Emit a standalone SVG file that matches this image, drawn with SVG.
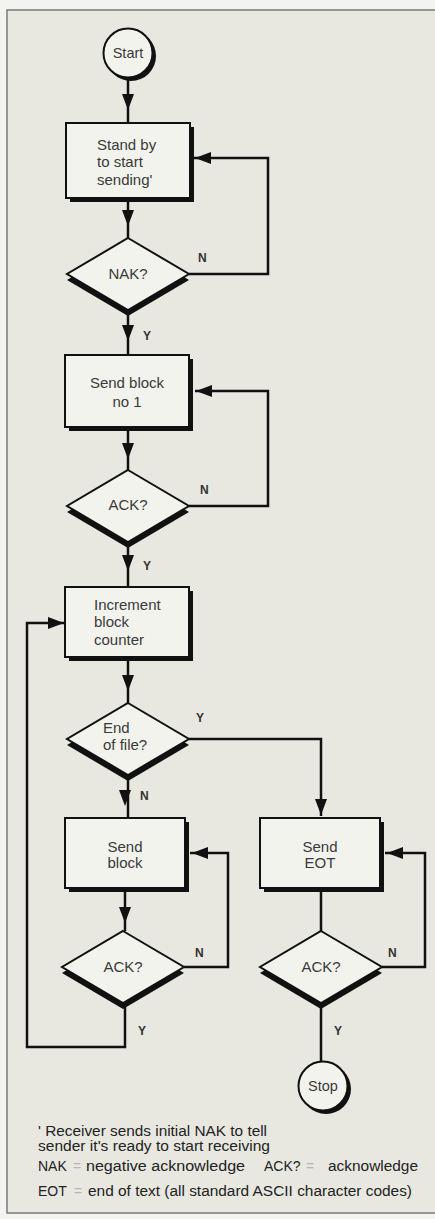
<svg xmlns="http://www.w3.org/2000/svg" width="435" height="1219" viewBox="0 0 435 1219">
<style>
.bg{fill:#f3f3ef}
.frame{fill:#e8e8e1;stroke:#7a7a78;stroke-width:1.5}
.sh{fill:#111}
.nd{fill:#f3f3ee;stroke:#111;stroke-width:2}
.t{font-family:"Liberation Sans",Arial,sans-serif;font-size:15px;fill:#3a3a3a}
.tc{text-anchor:middle}
.lb{font-family:"Liberation Sans",Arial,sans-serif;font-size:12px;font-weight:bold;fill:#333}
.fn{font-family:"Liberation Sans",Arial,sans-serif;font-size:14px;fill:#222}
.eq{font-family:"Liberation Sans",Arial,sans-serif;font-size:14px;fill:#b9b5b3}
.ln{fill:none;stroke:#111;stroke-width:2.5}
.ah{fill:#111}
</style>
<defs>
<path id="ad" d="M-6,-16 L6,-16 L0,0 Z"/>
<path id="al" d="M16,-6 L16,6 L0,0 Z"/>
<path id="ar" d="M-16,-6 L-16,6 L0,0 Z"/>
</defs>
<rect class="bg" x="0" y="0" width="435" height="1219"/>
<rect class="frame" x="7" y="10" width="440" height="1203"/>

<g id="connectors">
<path class="ln" d="M128,80 V123"/>
<path class="ln" d="M128,198 V238"/>
<path class="ln" d="M189,274 H268 V158 H192"/>
<path class="ln" d="M128,310 V355"/>
<path class="ln" d="M128,427 V470"/>
<path class="ln" d="M189,506 H268 V391 H195"/>
<path class="ln" d="M128,542 V587"/>
<path class="ln" d="M128,657 V703"/>
<path class="ln" d="M189,739 H321 V816"/>
<path class="ln" d="M128,775 V818"/>
<path class="ln" d="M125,888 V931"/>
<path class="ln" d="M184,967 H228 V853 H190"/>
<path class="ln" d="M321,888 V931"/>
<path class="ln" d="M382,967 H425 V853 H385"/>
<path class="ln" d="M125,1003 V1047 H27 V623 H64"/>
<path class="ln" d="M321,1003 V1062"/>
<use class="ah" href="#ad" x="128" y="110"/>
<use class="ah" href="#ad" x="128" y="226"/>
<use class="ah" href="#al" x="195" y="158"/>
<use class="ah" href="#ad" x="128" y="341"/>
<use class="ah" href="#ad" x="128" y="459"/>
<use class="ah" href="#al" x="196" y="391"/>
<use class="ah" href="#ad" x="128" y="571"/>
<use class="ah" href="#ad" x="128" y="691"/>
<use class="ah" href="#ad" x="321" y="815"/>
<use class="ah" href="#ad" x="125" y="806"/>
<use class="ah" href="#ad" x="125" y="923"/>
<use class="ah" href="#al" x="192" y="853"/>
<use class="ah" href="#al" x="387" y="853"/>
<use class="ah" href="#ar" x="64" y="623"/>
</g>

<g id="start">
<circle class="sh" cx="131" cy="56" r="25"/>
<circle class="nd" cx="128" cy="53" r="24.5"/>
<text class="t tc" x="128" y="58" style="font-size:14.5px">Start</text>
</g>

<g id="standby">
<rect class="sh" x="70" y="127" width="124" height="75"/>
<rect class="nd" x="66" y="123" width="124" height="75"/>
<text class="t" x="97" y="150">Stand by</text>
<text class="t" x="97" y="167">to start</text>
<text class="t" x="97" y="185">sending'</text>
</g>

<g id="nak">
<polygon class="sh" points="128,243 189,280 128,316 67,280"/>
<polygon class="nd" points="128,238 189,274 128,310 67,274"/>
<text class="t tc" x="128" y="279">NAK?</text>
<text class="lb" x="198" y="262">N</text>
<text class="lb" x="143" y="340">Y</text>
</g>

<g id="sendblock1">
<rect class="sh" x="69" y="359" width="124" height="72"/>
<rect class="nd" x="65" y="355" width="124" height="72"/>
<text class="t tc" x="127" y="388">Send block</text>
<text class="t tc" x="127" y="407">no 1</text>
</g>

<g id="ack1">
<polygon class="sh" points="128,475 189,512 128,548 67,512"/>
<polygon class="nd" points="128,470 189,506 128,542 67,506"/>
<text class="t tc" x="128" y="510">ACK?</text>
<text class="lb" x="200" y="494">N</text>
<text class="lb" x="143" y="570">Y</text>
</g>

<g id="increment">
<rect class="sh" x="69" y="591" width="124" height="70"/>
<rect class="nd" x="65" y="587" width="124" height="70"/>
<text class="t" x="94" y="610">Increment</text>
<text class="t" x="94" y="627">block</text>
<text class="t" x="94" y="645">counter</text>
</g>

<g id="eof">
<polygon class="sh" points="128,708 189,745 128,781 67,745"/>
<polygon class="nd" points="128,703 189,739 128,775 67,739"/>
<text class="t" x="103" y="733">End</text>
<text class="t" x="103" y="750">of file?</text>
<text class="lb" x="196" y="722">Y</text>
<text class="lb" x="140" y="800">N</text>
</g>

<g id="sendblock">
<rect class="sh" x="69" y="822" width="120" height="70"/>
<rect class="nd" x="65" y="818" width="120" height="70"/>
<text class="t tc" x="125" y="852">Send</text>
<text class="t tc" x="125" y="868">block</text>
</g>

<g id="sendeot">
<rect class="sh" x="264" y="822" width="120" height="70"/>
<rect class="nd" x="260" y="818" width="120" height="70"/>
<text class="t tc" x="320" y="852">Send</text>
<text class="t tc" x="320" y="868">EOT</text>
</g>

<g id="ack2">
<polygon class="sh" points="123,936 184,973 123,1009 62,973"/>
<polygon class="nd" points="123,931 184,967 123,1003 62,967"/>
<text class="t tc" x="123" y="972">ACK?</text>
<text class="lb" x="195" y="957">N</text>
<text class="lb" x="138" y="1035">Y</text>
</g>

<g id="ack3">
<polygon class="sh" points="321,936 382,973 321,1009 260,973"/>
<polygon class="nd" points="321,931 382,967 321,1003 260,967"/>
<text class="t tc" x="321" y="972">ACK?</text>
<text class="lb" x="388" y="957">N</text>
<text class="lb" x="334" y="1035">Y</text>
</g>

<g id="stop">
<circle class="sh" cx="326" cy="1089" r="25"/>
<circle class="nd" cx="323" cy="1086" r="24.5"/>
<text class="t tc" x="323" y="1091" style="font-size:14.5px">Stop</text>
</g>

<g id="notes">
<text class="fn" x="38" y="1136" textLength="229" lengthAdjust="spacingAndGlyphs">' Receiver sends initial NAK to tell</text>
<text class="fn" x="38" y="1151" textLength="232" lengthAdjust="spacingAndGlyphs">sender it's ready to start receiving</text>
<text class="fn" x="38" y="1171">NAK</text>
<text class="eq" x="73" y="1171">=</text>
<text class="fn" x="86" y="1171" textLength="159" lengthAdjust="spacingAndGlyphs">negative acknowledge</text>
<text class="fn" x="264" y="1171">ACK?</text>
<text class="eq" x="306" y="1171">=</text>
<text class="fn" x="328" y="1171" textLength="90" lengthAdjust="spacingAndGlyphs">acknowledge</text>
<text class="fn" x="38" y="1196">EOT</text>
<text class="eq" x="74" y="1196">=</text>
<text class="fn" x="88" y="1196" textLength="324" lengthAdjust="spacingAndGlyphs">end of text (all standard ASCII character codes)</text>
</g>
</svg>
